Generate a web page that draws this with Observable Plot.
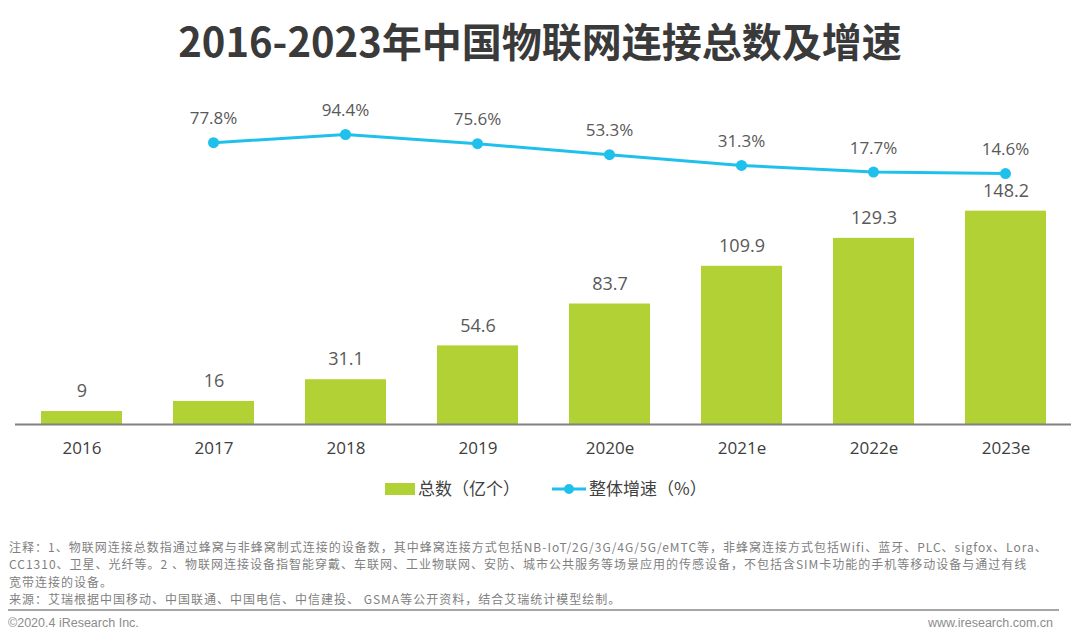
<!DOCTYPE html>
<html><head><meta charset="utf-8">
<script src="https://cdn.jsdelivr.net/npm/d3@7"></script>
<script src="https://cdn.jsdelivr.net/npm/@observablehq/plot@0.6"></script>
<style>
html,body{margin:0;padding:0;background:#fff;}
#page{position:relative;width:1080px;height:644px;overflow:hidden;font-family:"Noto Sans CJK SC","Noto Sans",sans-serif;}
#title{position:absolute;left:0;top:10px;width:1080px;text-align:center;font-size:40px;font-weight:bold;color:#3a3a3a;line-height:60px;}
.layer{position:absolute;left:0;top:90px;}
#legend{position:absolute;top:473px;left:0;width:1080px;height:32px;}
.notes{position:absolute;left:9px;top:538px;font-size:12px;letter-spacing:1px;color:#7f7f7f;line-height:17.4px;white-space:nowrap;}
#divider{position:absolute;left:8px;top:609px;width:1051px;height:2px;background:#a6a6a6;}
.foot{position:absolute;top:616px;font-family:"Liberation Sans",Arial,sans-serif;font-size:12.5px;color:#8c8c8c;}
</style></head>
<body><div id="page">
<div id="title">2016-2023年中国物联网连接总数及增速</div>
<div id="bars" class="layer"></div>
<div id="line" class="layer"></div>
<div id="legend">
  <svg width="1080" height="32" style="position:absolute;left:0;top:0;overflow:visible">
    <rect x="385" y="10" width="30" height="12" fill="#b1d135"></rect>
    <text x="418" y="16" dy="0.36em" font-size="17" fill="#404040">总数（亿个）</text>
    <line x1="552" x2="586" y1="16" y2="16" stroke="#1fc1ec" stroke-width="3"></line>
    <circle cx="569" cy="16" r="5" fill="#1fc1ec"></circle>
    <text x="589" y="16" dy="0.36em" font-size="17" fill="#404040">整体增速（%）</text>
  </svg>
</div>
<div class="notes">注释：1、物联网连接总数指通过蜂窝与非蜂窝制式连接的设备数，其中蜂窝连接方式包括NB-IoT/2G/3G/4G/5G/eMTC等，非蜂窝连接方式包括Wifi、蓝牙、PLC、sigfox、Lora、<br>CC1310、卫星、光纤等。2 、物联网连接设备指智能穿戴、车联网、工业物联网、安防、城市公共服务等场景应用的传感设备，不包括含SIM卡功能的手机等移动设备与通过有线<br>宽带连接的设备。<br>来源：艾瑞根据中国移动、中国联通、中国电信、中信建投、 GSMA等公开资料，结合艾瑞统计模型绘制。</div>
<div id="divider"></div>
<div class="foot" style="left:8px">©2020.4 iResearch Inc.</div>
<div class="foot" style="right:27px">www.iresearch.com.cn</div>
</div>
<script>
const years = ["2016","2017","2018","2019","2020e","2021e","2022e","2023e"];
const totals = [9, 16, 31.1, 54.6, 83.7, 109.9, 129.3, 148.2];
const totalLabels = ["9","16","31.1","54.6","83.7","109.9","129.3","148.2"];
const rates = [null, 77.8, 94.4, 75.6, 53.3, 31.3, 17.7, 14.6];
const rateLabels = ["", "77.8%", "94.4%", "75.6%", "53.3%", "31.3%", "17.7%", "14.6%"];

const barData = years.map((y, i) => ({year: y, total: totals[i], label: totalLabels[i]}));
const rateData = years.map((y, i) => ({year: y, rate: rates[i], label: rateLabels[i]})).filter(d => d.rate != null);

const numFont = "'Open Sans','Noto Sans CJK SC',sans-serif";
const xOpts = {domain: years, paddingInner: 0.39, paddingOuter: 0.195, label: null};
const common = {width: 1080, height: 370, marginLeft: 15, marginRight: 9, marginTop: 0, marginBottom: 36,
  style: {fontFamily: numFont, background: "transparent", overflow: "visible"}};

const barsPlot = Plot.plot({
  ...common,
  x: xOpts,
  y: {domain: [0, 232], axis: null},
  marks: [
    Plot.barY(barData, {x: "year", y: "total", fill: "#b1d135"}),
    Plot.ruleY([0], {stroke: "#808080", strokeWidth: 2}),
    Plot.axisX({tickSize: 0, tickPadding: 17, fontSize: 17, fill: "#404040"}),
    Plot.text(barData, {x: "year", y: "total", text: "label", dy: -20, fontSize: 18, fill: "#595959"})
  ]
});
document.getElementById("bars").appendChild(barsPlot);

const linePlot = Plot.plot({
  ...common,
  x: {...xOpts, axis: null},
  y: {domain: [-497.4, 184.2], axis: null},
  marks: [
    Plot.line(rateData, {x: "year", y: "rate", stroke: "#1fc1ec", strokeWidth: 3}),
    Plot.dot(rateData, {x: "year", y: "rate", r: 5.5, fill: "#1fc1ec"}),
    Plot.text(rateData, {x: "year", y: "rate", text: "label", dy: -24, fontSize: 17, fill: "#595959"})
  ]
});
document.getElementById("line").appendChild(linePlot);
</script>
</body></html>
